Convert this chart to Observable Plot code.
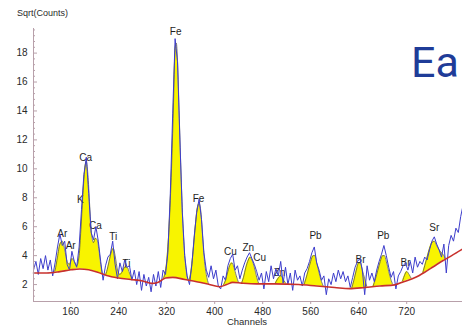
<!DOCTYPE html>
<html>
<head>
<meta charset="utf-8">
<script src="https://cdn.jsdelivr.net/npm/d3@7"></script>
<script src="https://cdn.jsdelivr.net/npm/@observablehq/plot@0.6"></script>
<style>
  html, body { margin: 0; padding: 0; background: #fff; overflow: hidden; }
  #chart { position: relative; width: 462px; height: 329px; overflow: hidden; }
</style>
</head>
<body>
<div id="chart"></div>
<script>
// XRF spectrum: square root of counts per channel
const spectrumStart = 98;
const spectrumStep = 4;
const sqrtCounts = [
  3.0, 3.6, 2.7, 3.8, 3.1, 4.0, 3.0, 3.7, 2.6, 3.5,
  4.6, 5.5, 4.7, 5.0, 3.4, 3.0, 4.3, 3.6, 3.2, 4.6,
  7.2, 9.6, 10.8, 8.3, 5.6, 5.1, 6.0, 5.0, 3.6, 2.3,
  3.3, 3.9, 4.1, 5.0, 3.4, 2.4, 3.5, 2.9, 3.7, 3.2,
  3.3, 2.3, 3.0, 2.0, 2.9, 1.6, 2.7, 1.9, 2.5, 1.5,
  2.7, 1.9, 2.9, 1.8, 3.0, 2.7, 4.2, 8.3, 13.8, 19.0,
  17.4, 12.0, 7.0, 4.0, 2.6, 2.0, 3.4, 5.4, 7.0, 7.9,
  6.5, 4.2, 3.0, 2.5, 3.3, 2.4, 3.0, 1.9, 1.7, 2.6,
  2.3, 3.3, 3.8, 4.1, 3.0, 3.3, 2.4, 3.0, 3.5, 3.9,
  4.2, 3.8, 3.4, 2.9, 2.3, 2.8, 1.7, 2.9, 2.2, 3.3,
  2.4, 3.1, 2.6, 3.6, 2.1, 3.2, 2.0, 2.8, 1.6, 3.0,
  2.3, 2.6, 1.9, 2.8, 3.1, 3.6, 4.2, 4.6, 3.5, 3.0,
  2.3, 2.6, 1.3, 2.4, 2.0, 2.8, 2.2, 3.0, 2.4, 2.9,
  2.2, 2.6, 1.8, 2.5, 3.2, 3.6, 3.8, 3.0, 1.3, 3.3,
  2.3, 2.8, 2.2, 3.0, 3.6, 4.1, 4.7, 4.0, 3.2, 2.5,
  2.9, 1.7, 2.6, 2.9, 3.3, 3.5, 3.0, 3.6, 2.8, 3.9,
  3.2, 3.6, 3.4, 3.9, 3.7, 4.4, 5.0, 5.3, 4.8, 4.4,
  3.9, 4.8, 2.8, 4.7, 5.4, 5.0, 5.9, 5.6, 6.7, 7.5
];

// Fitted background
const baselineChannels = [98, 120, 140, 160, 175, 190, 205, 220, 240, 260, 280, 295, 305, 318, 330, 350, 370, 390, 408, 420, 430, 445, 470, 500, 540, 570, 600, 625, 650, 675, 700, 715, 735, 750, 765, 780, 795, 813];
const baselineValues   = [2.8, 2.8, 2.88, 3.02, 3.08, 3.02, 2.85, 2.62, 2.45, 2.35, 2.25, 2.08, 2.15, 2.45, 2.5, 2.35, 2.2, 2.02, 1.85, 2.0, 2.15, 2.1, 2.05, 2.05, 2.0, 1.9, 1.8, 1.72, 1.8, 1.9, 1.98, 2.2, 2.5, 2.85, 3.25, 3.65, 4.0, 4.45];

// Fitted peak envelopes: [channel, sqrt counts]
const fitArCa = [[130, 2.7], [134, 3.0], [138, 3.9], [142, 4.8], [146, 5.0], [150, 4.4], [154, 3.6], [158, 3.4], [162, 3.8], [166, 3.6], [170, 3.3], [174, 4.0], [177, 5.8], [180, 8.0], [183, 9.8], [186, 10.5], [189, 9.4], [192, 7.2], [195, 5.4], [198, 4.9], [201, 5.2], [204, 5.1], [207, 4.4], [210, 3.4], [214, 2.5]];
const fitTi   = [[216, 2.5], [220, 2.9], [224, 3.6], [228, 4.3], [231, 4.5], [234, 4.0], [238, 3.0], [242, 2.7], [246, 2.9], [250, 3.2], [254, 3.2], [258, 2.8], [262, 2.4], [266, 2.2]];
const fitFe   = [[312, 2.2], [316, 2.6], [320, 3.6], [324, 6.0], [328, 10.0], [331, 14.0], [334, 18.3], [336, 18.7], [338, 17.5], [341, 13.5], [344, 9.5], [347, 6.2], [350, 4.0], [353, 2.8], [356, 2.2]];
const fitFeKb = [[356, 2.2], [360, 2.8], [364, 4.3], [368, 6.2], [371, 7.3], [374, 7.6], [377, 7.0], [380, 5.2], [383, 3.6], [386, 2.7], [390, 2.0]];
const fitCu   = [[414, 1.9], [418, 2.3], [422, 2.9], [426, 3.4], [429, 3.5], [432, 3.2], [436, 2.6], [440, 2.1]];
const fitZn   = [[444, 2.0], [448, 2.5], [452, 3.2], [456, 3.7], [459, 3.9], [462, 3.7], [466, 3.2], [470, 2.5], [474, 2.0]];
const fitZnKb = [[500, 2.0], [505, 2.4], [510, 2.6], [515, 2.3], [520, 2.0]];
const fitPb   = [[548, 1.9], [552, 2.4], [556, 3.0], [560, 3.6], [564, 4.0], [567, 4.0], [570, 3.5], [574, 2.8], [578, 2.2], [582, 1.8]];
const fitBr   = [[628, 1.7], [632, 2.3], [636, 3.0], [640, 3.5], [643, 3.5], [646, 3.0], [650, 2.4], [654, 1.8]];
const fitPbLb = [[664, 1.9], [668, 2.4], [672, 3.0], [676, 3.6], [680, 4.0], [683, 4.0], [686, 3.6], [690, 2.9], [694, 2.3], [698, 1.9]];
const fitBrKb = [[712, 2.1], [716, 2.6], [720, 2.9], [724, 2.7], [728, 2.4], [732, 2.3]];
const fitSr   = [[746, 2.7], [750, 3.3], [754, 3.9], [758, 4.5], [762, 4.9], [766, 5.0], [770, 4.7], [774, 4.4], [778, 4.2], [782, 4.0], [786, 3.7], [790, 3.7]];

// Element line identifications
const labelNames    = ["Ar", "Ar", "K", "Ca", "Ca", "Ti", "Ti", "Fe", "Fe", "Cu", "Zn", "Cu", "Zn", "Pb", "Br", "Pb", "Br", "Sr"];
const labelChannels = [146, 160, 176, 185, 201, 231, 253, 335, 373, 426, 456, 475, 508, 568, 643, 681, 718, 766];
const labelValues   = [5.54, 4.71, 7.89, 10.73, 6.09, 5.33, 3.46, 19.46, 7.96, 4.29, 4.57, 3.88, 2.84, 5.40, 3.74, 5.40, 3.53, 5.89];

const xTicks = [160, 240, 320, 400, 480, 560, 640, 720];
const yTicks = [2, 4, 6, 8, 10, 12, 14, 16, 18];

const xDomain = [98, 813];
const yDomain = [0.83, 19.7];

const spectrum = sqrtCounts.map((v, i) => ({channel: spectrumStart + i * spectrumStep, value: v}));
const baseline = baselineChannels.map((c, i) => ({channel: c, value: baselineValues[i]}));
const fits = [fitArCa, fitTi, fitFe, fitFeKb, fitCu, fitZn, fitZnKb, fitPb, fitBr, fitPbLb, fitBrKb, fitSr]
  .flatMap((f, k) => f.map(([c, v]) => ({peak: k, channel: c, value: v})));
const labels = labelNames.map((n, i) => ({name: n, channel: labelChannels[i], value: labelValues[i]}));
const yMinor = d3.range(1.2, 19.7, 0.4).filter(v => !yTicks.some(t => Math.abs(t - v) < 1e-6));

const axisColor = "#b8a0aa";
const font = "Liberation Sans, Arial, sans-serif";

const chart = Plot.plot({
  width: 462,
  height: 329,
  marginLeft: 33,
  marginRight: 0,
  marginTop: 28,
  marginBottom: 28,
  style: {fontFamily: font, background: "white", overflow: "hidden"},
  x: {domain: xDomain},
  y: {domain: yDomain},
  marks: [
    // peak envelopes filled down to the frame bottom
    Plot.areaY(fits, {x: "channel", y1: yDomain[0], y2: "value", z: "peak", fill: "#f8f400", curve: "monotone-x"}),
    Plot.line(fits, {x: "channel", y: "value", z: "peak", stroke: "#5e5e44", strokeWidth: 0.8, curve: "monotone-x"}),
    // background mask: nothing is filled below the fitted background
    Plot.areaY(baseline, {x: "channel", y1: yDomain[0], y2: "value", fill: "white", curve: "monotone-x"}),
    Plot.text(labels, {x: "channel", y: "value", text: "name", fontSize: 10, fill: "#1e1e1e", fontFamily: font}),
    Plot.line(spectrum, {x: "channel", y: "value", stroke: "#3d3dcc", strokeWidth: 1, clip: true}),
    Plot.line(baseline, {x: "channel", y: "value", stroke: "#c8302c", strokeWidth: 1.6, curve: "monotone-x"}),
    // axes
    Plot.ruleX([xDomain[0]], {stroke: axisColor, strokeWidth: 1}),
    Plot.ruleY([yDomain[0]], {stroke: axisColor, strokeWidth: 1}),
    Plot.tickY(yTicks, {y: d => d, stroke: axisColor, insetRight: 425}),
    Plot.tickY(yMinor, {y: d => d, stroke: axisColor, insetRight: 427}),
    Plot.axisY(yTicks, {tickSize: 0, tickPadding: 6, fontSize: 10, fill: "#2a2a2a", label: null}),
    Plot.axisX(xTicks, {tickSize: 3, tickPadding: 3, stroke: axisColor, fontSize: 10, fill: "#2a2a2a", label: null})
  ]
});

const svg = d3.select(chart);
svg.append("text").attr("x", 17).attr("y", 16).attr("text-anchor", "start").attr("font-size", 9)
  .attr("fill", "#2a2a2a").attr("font-family", font).text("Sqrt(Counts)");
svg.append("text").attr("x", 247).attr("y", 325).attr("text-anchor", "middle").attr("font-size", 9.5)
  .attr("fill", "#2a2a2a").attr("font-family", font).text("Channels");
svg.append("text").attr("x", 411).attr("y", 77).attr("text-anchor", "start").attr("font-size", 43)
  .attr("fill", "#1f3c98").attr("font-family", "Roboto, sans-serif").text("Ea");

document.getElementById("chart").appendChild(chart);
</script>
</body>
</html>
